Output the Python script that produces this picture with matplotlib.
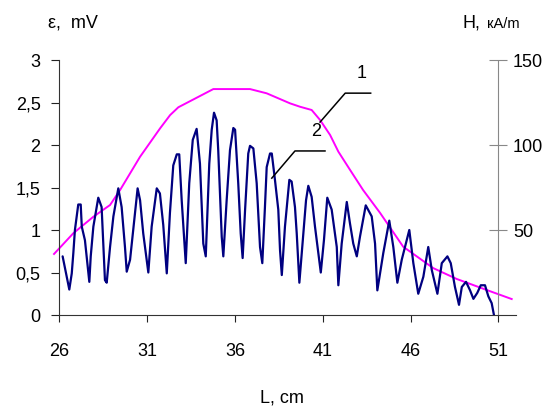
import matplotlib
matplotlib.use("Agg")
import matplotlib.pyplot as plt

plt.rcParams['font.family'] = ['Liberation Sans', 'DejaVu Sans']

# curve 1: magnetic field H, kA/m (right axis)
h_pos = [25.70, 26.80, 27.94, 28.89, 29.46, 30.60, 31.74, 32.31, 32.78, 34.77,
         36.86, 37.81, 39.14, 39.71, 40.37, 40.85, 41.42, 41.89, 42.56, 43.30,
         44.27, 45.58, 47.29, 48.63, 50.34, 51.76]
h_val = [35.9, 48.1, 57.8, 64.7, 73.5, 93.1, 109.8, 117.6, 122.2, 132.9,
         132.9, 130.4, 124.5, 122.5, 120.6, 114.7, 105.9, 96.1, 85.3, 73.5,
         60.0, 40.2, 27.6, 21.2, 14.7, 9.4]

# curve 2: signal eps, mV (left axis)
e_pos = [26.19, 26.57, 26.71, 26.80, 26.89, 27.08, 27.22, 27.28, 27.46, 27.71,
         27.79, 27.94, 28.22, 28.41, 28.60, 28.70, 28.89, 29.08, 29.36, 29.55,
         29.74, 29.84, 30.03, 30.21, 30.46, 30.60, 30.78, 31.07, 31.26, 31.55,
         31.73, 31.92, 32.12, 32.30, 32.49, 32.69, 32.83, 32.97, 33.20, 33.40,
         33.60, 33.82, 34.01, 34.20, 34.34, 34.54, 34.68, 34.81, 34.96, 35.05,
         35.25, 35.34, 35.53, 35.72, 35.91, 36.01, 36.19, 36.33, 36.44, 36.58,
         36.76, 36.86, 37.05, 37.24, 37.43, 37.56, 37.71, 37.81, 38.00, 38.10,
         38.28, 38.47, 38.57, 38.67, 38.85, 39.10, 39.23, 39.42, 39.52, 39.67,
         39.90, 40.05, 40.18, 40.37, 40.56, 40.89, 41.07, 41.26, 41.51, 41.80,
         41.89, 42.08, 42.37, 42.55, 42.74, 42.94, 43.12, 43.45, 43.79, 43.98,
         44.11, 44.45, 44.79, 45.02, 45.25, 45.50, 45.93, 46.16, 46.44, 46.73,
         47.01, 47.21, 47.53, 47.78, 48.10, 48.29, 48.53, 48.76, 48.92, 49.16,
         49.39, 49.58, 49.80, 50.00, 50.24, 50.43, 50.62, 50.75]
e_val = [0.69, 0.30, 0.49, 0.73, 1.00, 1.30, 1.30, 1.04, 0.88, 0.39,
         0.69, 1.04, 1.38, 1.27, 0.41, 0.38, 0.80, 1.16, 1.49, 1.27,
         0.80, 0.51, 0.65, 1.00, 1.49, 1.35, 0.96, 0.50, 1.04, 1.49,
         1.43, 1.06, 0.49, 1.20, 1.76, 1.89, 1.89, 1.35, 0.61, 1.55,
         2.06, 2.19, 1.78, 0.84, 0.69, 1.78, 2.18, 2.38, 2.29, 1.94,
         0.92, 0.69, 1.35, 1.94, 2.20, 2.18, 1.55, 0.96, 0.67, 1.24,
         1.90, 1.99, 1.96, 1.55, 0.80, 0.61, 1.27, 1.74, 1.90, 1.90,
         1.59, 1.24, 0.76, 0.47, 1.04, 1.59, 1.57, 1.27, 0.96, 0.38,
         0.96, 1.35, 1.52, 1.39, 1.04, 0.50, 0.88, 1.38, 1.24, 0.80,
         0.35, 0.84, 1.33, 1.08, 0.84, 0.69, 0.92, 1.29, 1.16, 0.84,
         0.29, 0.73, 1.11, 0.80, 0.38, 0.65, 1.00, 0.61, 0.25, 0.45,
         0.80, 0.53, 0.25, 0.61, 0.69, 0.61, 0.33, 0.12, 0.33, 0.39,
         0.29, 0.19, 0.26, 0.35, 0.35, 0.22, 0.14, 0.00]

x_ticks = [26, 31, 36, 41, 46, 51]
left_ticks = [0, 0.5, 1, 1.5, 2, 2.5, 3]
left_labels = ['0', '0,5', '1', '1,5', '2', '2,5', '3']
right_ticks = [50, 100, 150]

fig = plt.figure(figsize=(5.5, 4.09), dpi=100)
ax = fig.add_axes([0.1078, 0.2298, 0.8302, 0.6235])
ax2 = ax.twinx()

ax.plot(e_pos, e_val, color='#000080', lw=1.6, zorder=3,
        solid_joinstyle='round', solid_capstyle='round')
ax2.plot(h_pos, h_val, color='#ff00ff', lw=1.4, clip_on=False,
         solid_joinstyle='round')

ax.set_xlim(26, 52)
ax.set_ylim(0, 3)
ax2.set_ylim(0, 150)

ax.set_zorder(ax2.get_zorder() + 1)
ax.patch.set_visible(False)

ax.set_xticks(x_ticks)
ax.set_yticks(left_ticks)
ax.set_yticklabels(left_labels)
ax.tick_params(axis='x', direction='out', length=5, pad=15, labelsize=13, color='#222222')
ax.tick_params(axis='y', direction='out', length=5.5, pad=8, labelsize=13, color='#222222')
for s in ['top', 'right']:
    ax.spines[s].set_visible(False)
ax.spines['left'].set_color('#333333')
ax.spines['bottom'].set_color('#333333')

for s in ['top', 'left', 'bottom']:
    ax2.spines[s].set_visible(False)
ax2.spines['right'].set_position(('data', 51))
ax2.spines['right'].set_linestyle((0, (1, 1)))
ax2.spines['right'].set_color('#888888')
ax2.set_yticks(right_ticks)
ax2.tick_params(axis='y', direction='inout', length=13, pad=4, labelsize=13, color='#888888')

# leader lines and curve numbers
ax.plot([40.85, 42.28, 43.73], [2.27, 2.61, 2.61], color='black', lw=1.1, zorder=4)
ax.plot([38.10, 39.42, 41.13], [1.61, 1.93, 1.93], color='black', lw=1.1, zorder=4)
ax.text(43.22, 2.84, '1', fontsize=13, ha='center', va='center')
ax.text(40.62, 2.16, '2', fontsize=13, ha='center', va='center')

fig.text(73 / 550, 1 - 23 / 409, 'ε,  mV', fontsize=13, ha='center', va='center')
fig.text(463 / 550, 1 - 23 / 409, 'H,', fontsize=13, ha='left', va='center')
fig.text(487 / 550, 1 - 24 / 409, 'кA/m', fontsize=10.5, ha='left', va='center')
fig.text(282 / 550, 1 - 398 / 409, 'L, cm', fontsize=13, ha='center', va='center')

fig.savefig('out.png', dpi=100)
